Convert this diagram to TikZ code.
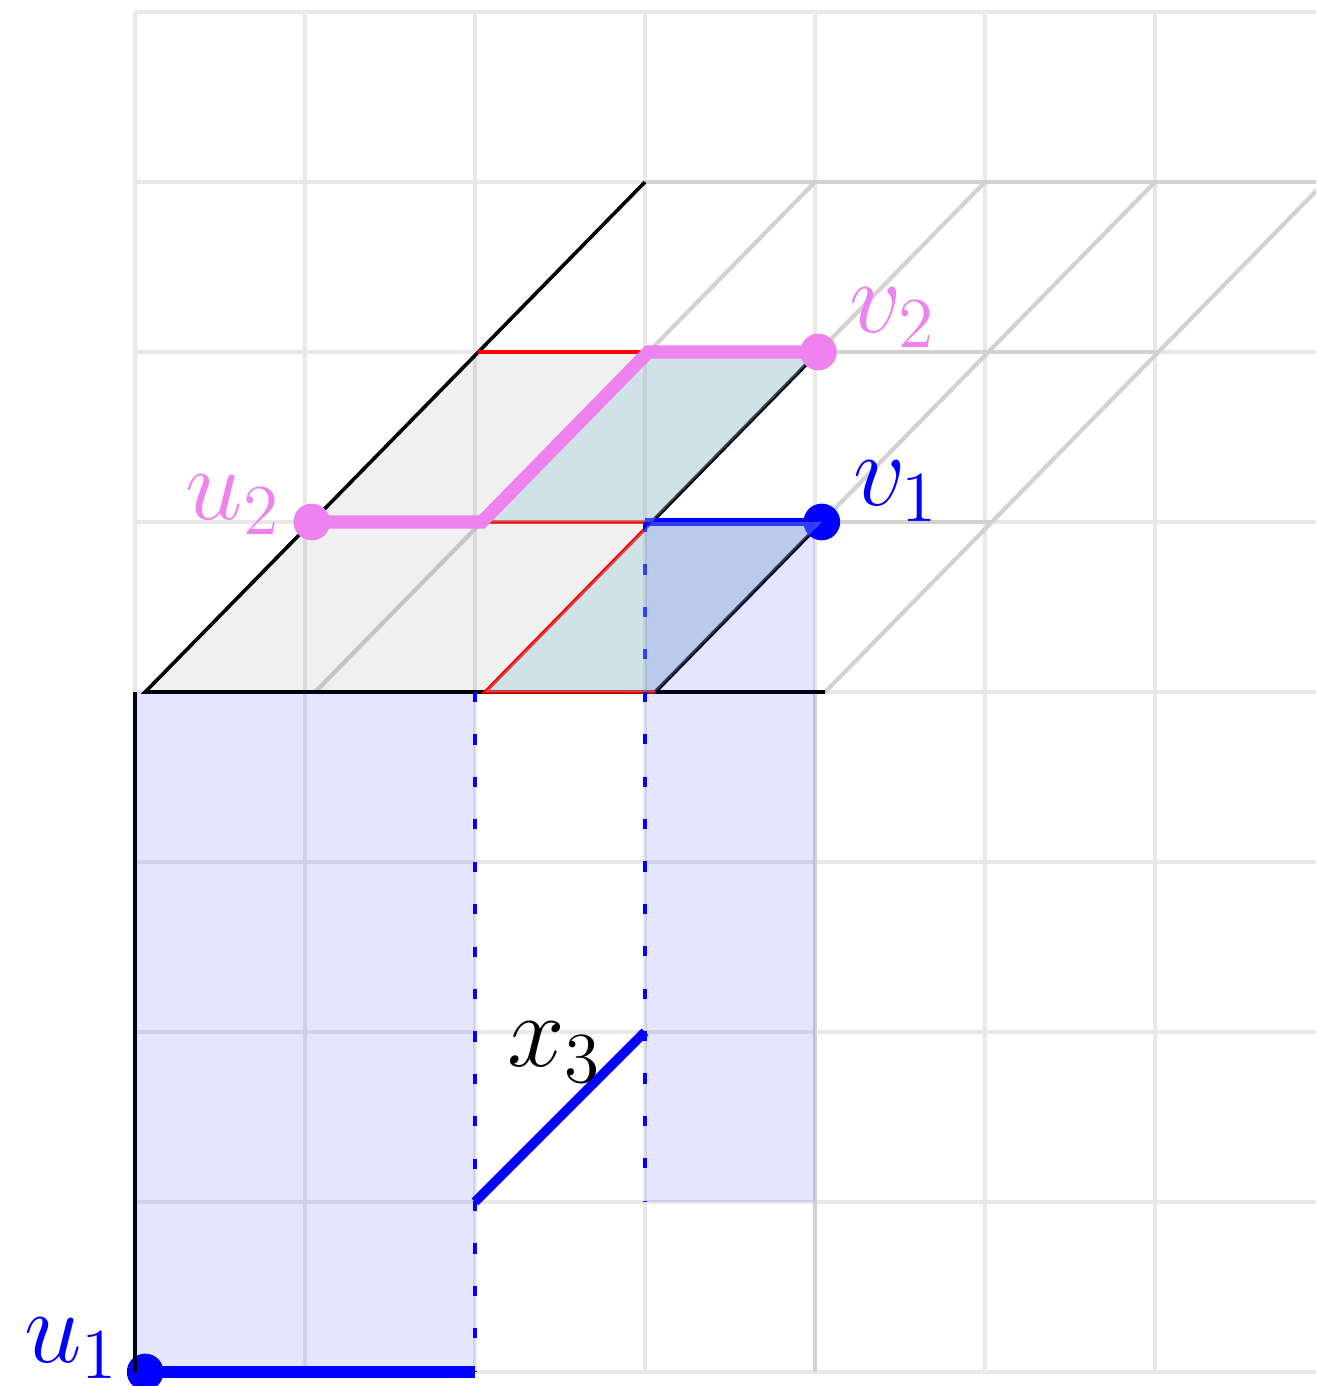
\documentclass[tikz,border=0pt]{standalone}
\begin{document}
\begin{tikzpicture}[
  basegrid/.style={draw=gray!18, line width=0.6pt},
  shgrid/.style={draw=gray!35, line width=0.7pt},
  edge/.style={draw=black, line width=0.6pt},
  rededge/.style={draw=red, line width=0.55pt},
  bluedash/.style={draw=blue, line width=0.8pt, dash pattern=on 1.7pt off 5.4pt},
  dot/.style={circle, inner sep=0pt, minimum size=0.216cm},
  lab/.style={inner sep=0pt, font=\LARGE}
]
\definecolor{pinkv}{RGB}{238,130,238}
\definecolor{tealf}{RGB}{149,200,217}
\useasboundingbox (-0.7941,-0.0824) rectangle (6.9471,8.0706);
\clip (-0.7941,-0.0824) rectangle (6.9471,8.0706);

% sheared plane coordinates
\foreach \a in {0,...,4}{\foreach \b in {0,...,3}{
  \coordinate (s\a\b) at ({\a+\b+0.02*(3-\b)},{4+\b});}}
\coordinate (pu1) at (0.06,0);
\coordinate (o0) at (0,0);
\coordinate (o4) at (0,4);
\coordinate (c20) at (2,0);
\coordinate (c21) at (2,1);
\coordinate (c24) at (2,4);
\coordinate (c31) at (3,1);
\coordinate (c32) at (3,2);
\coordinate (c35) at (3,5);
\coordinate (c40) at (4,0);
\coordinate (c44) at (4,4);

% base grid
\draw[basegrid] (0,0) grid (7,8);
\draw[shgrid] (c40) -- (c44);

% sheared grid
\foreach \a in {1,...,4}{\draw[shgrid] (s\a0) -- (s\a3);}
\foreach \b in {1,2,3}{\draw[shgrid] (s0\b) -- (s4\b);}

% gray plane fill
\fill[black, opacity=0.06] (s00) -- (s30) -- (s31) -- (s21) -- (s22) -- (s02) -- cycle;

\draw[edge] (s03) -- (s00) -- (s40);
\draw[edge] (s30) -- (s31);
\draw[edge] (s21) -- (s22);
\draw[rededge] (s02) -- (s12);
\draw[rededge] (s11) -- (s21) -- (s20) -- (s30);

% blue path
\draw[blue, line width=2pt] (pu1) -- (c20);
\draw[bluedash] (c24) -- (c20);
\draw[blue, line width=1.6pt] (c21) -- (c32);
\draw[bluedash] (c35) -- (c31);
\draw[blue, line width=1.5pt] (c35) -- (s31);

% blue dots
\node[dot, fill=blue] (u1) at (pu1) {};
\node[dot, fill=blue] (v1) at (s31) {};
\draw[edge] (o0) -- (o4);

% fills
\fill[tealf, opacity=0.35] (s20) -- (s30) -- (s31) -- (s21) -- cycle;
\fill[tealf, opacity=0.35] (s11) -- (s21) -- (s22) -- (s12) -- cycle;
\fill[blue, opacity=0.1] (0,0) rectangle (2,4);
\fill[blue, opacity=0.1] (3,1) rectangle (4,5);

% pink path
\draw[pinkv, line width=2.2pt] (s01) -- (s11) -- (s12) -- (s22);
\node[dot, fill=pinkv] (u2) at (s01) {};
\node[dot, fill=pinkv] (v2) at (s22) {};

% labels
\node[lab, text=blue] (lu1) at (-0.37,0.14) {$u_1$};
\node[lab, text=blue] (lv1) at (4.48,5.18) {$v_1$};
\node[lab, text=pinkv] (lu2) at (0.58,5.1) {$u_2$};
\node[lab, text=pinkv] (lv2) at (4.46,6.2) {$v_2$};
\node[lab] (lx3) at (2.47,1.88) {$x_3$};
\end{tikzpicture}
\end{document}
